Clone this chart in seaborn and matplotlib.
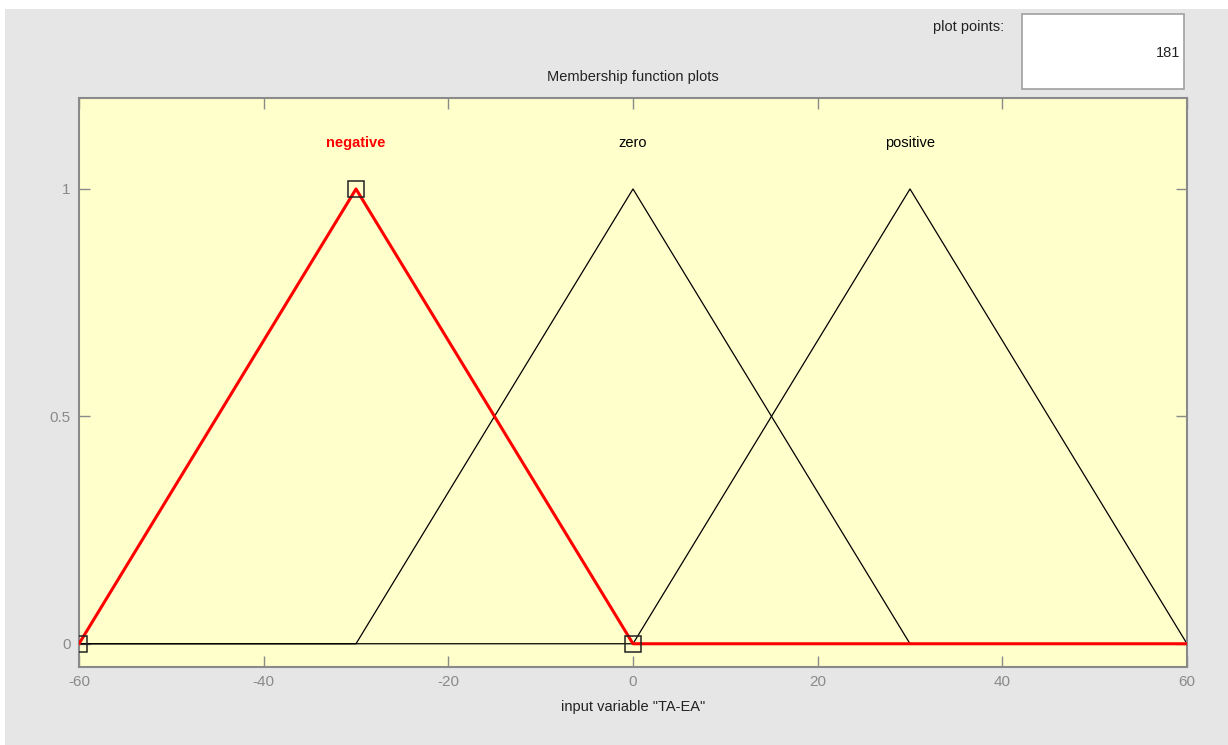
import numpy as np
import pandas as pd
import matplotlib
matplotlib.use("Agg")
import matplotlib.pyplot as plt
import matplotlib.patches as mpatches
import seaborn as sns

# Triangular membership functions of input variable "TA-EA"
mf_names = ["negative", "zero", "positive"]
mf_params = [[-60, -30, 0], [-30, 0, 30], [0, 30, 60]]
selected = "negative"
x_range = [-60, 60]
n_points = 181
x_ticks = [-60, -40, -20, 0, 20, 40, 60]
y_ticks = [0, 0.5, 1]
y_tick_labels = ["0", "0.5", "1"]

def trimf(x, a, b, c):
    left = np.where(b != a, (x - a) / (b - a + 1e-12), 1.0)
    right = np.where(c != b, (c - x) / (c - b + 1e-12), 1.0)
    return np.clip(np.minimum(left, right), 0, 1)

x = np.linspace(x_range[0], x_range[1], n_points)
frames = []
for name, p in zip(mf_names, mf_params):
    frames.append(pd.DataFrame({"x": x, "mu": trimf(x, *p), "mf": name}))
df = pd.concat(frames, ignore_index=True)

sns.set_theme(style="white")
plt.rcParams["font.family"] = ["Liberation Sans", "DejaVu Sans"]
plt.rcParams["axes.unicode_minus"] = False

bg = "#e6e6e6"
fig = plt.figure(figsize=(12.28, 7.45), dpi=100, facecolor=bg)
# white margin strips along top and left edges
fig.patches.append(mpatches.Rectangle((0, 1 - 9 / 745), 1, 9 / 745, transform=fig.transFigure,
                                      facecolor="white", edgecolor="none", zorder=0))
fig.patches.append(mpatches.Rectangle((0, 0), 5 / 1228, 1, transform=fig.transFigure,
                                      facecolor="white", edgecolor="none", zorder=0))

ax = fig.add_axes([79 / 1228, (745 - 666.5) / 745, (1187 - 79) / 1228, (666.5 - 98) / 745])
ax.set_facecolor("#ffffcc")

others = [n for n in mf_names if n != selected]
sns.lineplot(data=df[df.mf.isin(others)], x="x", y="mu", units="mf", estimator=None,
             color="black", linewidth=0.9, ax=ax, zorder=2)
sns.lineplot(data=df[df.mf == selected], x="x", y="mu", color="#ff0000",
             linewidth=2.2, ax=ax, zorder=3)

# parameter markers of the selected function
sel_p = mf_params[mf_names.index(selected)]
sel_mu = [0, 1, 0]
ax.plot(sel_p, sel_mu, linestyle="none", marker="s", markersize=11,
        markerfacecolor="none", markeredgecolor="#222222", markeredgewidth=1.1, zorder=4)

# function names above the peaks
for name, p in zip(mf_names, mf_params):
    is_sel = name == selected
    ax.text(p[1], 1.1, name, ha="center", va="center", fontsize=10.5,
            color="#ff0000" if is_sel else "black",
            fontweight="bold" if is_sel else "normal", zorder=5)

ax.set_xlim(x_range)
ax.set_ylim(-0.05, 1.2)
ax.set_xticks(x_ticks)
ax.set_yticks(y_ticks)
ax.set_yticklabels(y_tick_labels)
ax.tick_params(direction="in", length=8, width=1, color="#8a8a8a", labelcolor="#8a8a8a",
               labelsize=11, top=True, right=True, bottom=True, left=True, pad=6)
for s in ax.spines.values():
    s.set_color("#8a8a8a")
    s.set_linewidth(1.5)
ax.set_xlabel('input variable "TA-EA"', fontsize=10.5, color="#222222", labelpad=8)
ax.set_ylabel("")
ax.set_title("Membership function plots", fontsize=10.5, color="#222222", pad=12)

# "plot points" field
fig.patches.append(mpatches.Rectangle((1022 / 1228, (745 - 89) / 745), (1184 - 1022) / 1228, 75 / 745,
                                      transform=fig.transFigure, facecolor="white",
                                      edgecolor="#a0a0a0", linewidth=1.2, zorder=1))
fig.text(1004 / 1228, (745 - 27) / 745, "plot points:", ha="right", va="center",
         fontsize=10.5, color="#222222")
fig.text(1180 / 1228, (745 - 53) / 745, str(n_points), ha="right", va="center",
         fontsize=10.5, color="#222222")

fig.savefig("out.png", dpi=100, facecolor=bg)
